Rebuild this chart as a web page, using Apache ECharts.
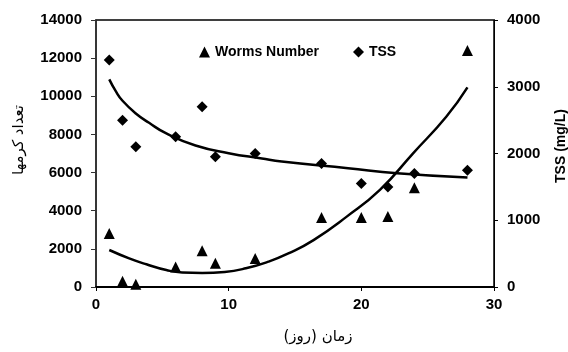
<!DOCTYPE html>
<html>
<head>
<meta charset="utf-8">
<script src="https://cdn.jsdelivr.net/npm/echarts@6/dist/echarts.min.js"></script>
<style>
  html, body { margin: 0; padding: 0; background: #fff; }
  #main { width: 568px; height: 352px; }
</style>
</head>
<body>
<div id="main"></div>
<script>
// روزها و مقادیر اندازه گیری شده
var days = [1, 2, 3, 6, 8, 9, 12, 17, 20, 22, 24, 28];
var worms = [2800, 300, 150, 1050, 1900, 1250, 1500, 3650, 3650, 3700, 5200, 12400];
var tss = [3400, 2500, 2100, 2250, 2700, 1950, 2000, 1850, 1550, 1500, 1700, 1750];

// خط روند (خوانده شده از تصویر)
var wormTrendX = [1, 2.5, 3.8, 5.3, 6.5, 8, 9.7, 11.3, 13, 14.5, 16.4, 18.9, 21.4, 23.9, 26.4, 28];
var wormTrendY = [1940, 1500, 1190, 890, 760, 740, 790, 980, 1330, 1760, 2460, 3690, 5090, 7010, 8930, 10470];
var tssTrendX = [1, 1.5, 2, 3, 4, 5.3, 7.5, 10, 12.5, 14, 19, 22.7, 28];
var tssTrendY = [3110, 2930, 2790, 2600, 2460, 2300, 2120, 2005, 1925, 1880, 1780, 1705, 1640];

var leftTicks = [0, 14000, 2000];
var rightTicks = [0, 4000, 1000];
var xTicks = [0, 30, 10];

function pairs(xs, ys) {
  return xs.map(function (x, i) { return [x, ys[i]]; });
}

var labelFont = {
  color: "#000", fontFamily: "Arial", fontWeight: "bold", fontSize: 15,
  formatter: function (v) { return String(v); }
};

var myChart = echarts.init(document.getElementById("main"));
myChart.setOption({
  animation: false,
  grid: {
    left: 96, top: 20, right: 74, bottom: 65,
    show: true, borderColor: "#000", borderWidth: 1.5, backgroundColor: "transparent"
  },
  legend: {
    left: 194, top: 40,
    itemWidth: 11, itemHeight: 11, itemGap: 34,
    textStyle: { color: "#000", fontFamily: "Arial", fontWeight: "bold", fontSize: 14 },
    data: ["Worms Number", "TSS"]
  },
  xAxis: {
    type: "value",
    min: xTicks[0], max: xTicks[1], interval: xTicks[2],
    axisLine: { lineStyle: { color: "#000", width: 2 } },
    axisTick: { length: 4, lineStyle: { color: "#000" } },
    axisLabel: Object.assign({ margin: 10 }, labelFont),
    splitLine: { show: false }
  },
  yAxis: [
    {
      type: "value",
      min: leftTicks[0], max: leftTicks[1], interval: leftTicks[2],
      axisLine: { show: true, lineStyle: { color: "#333", width: 1.5 } },
      axisTick: { show: true, length: 5, lineStyle: { color: "#333" } },
      axisLabel: Object.assign({ margin: 14 }, labelFont),
      splitLine: { show: false }
    },
    {
      type: "value",
      position: "right",
      min: rightTicks[0], max: rightTicks[1], interval: rightTicks[2],
      axisLine: { show: true, lineStyle: { color: "#000", width: 1 } },
      axisTick: { show: true, length: 4, lineStyle: { color: "#000" } },
      axisLabel: Object.assign({ margin: 13 }, labelFont),
      splitLine: { show: false }
    }
  ],
  series: [
    {
      name: "Worms Number",
      type: "scatter",
      yAxisIndex: 0,
      symbol: "triangle",
      symbolSize: 11,
      itemStyle: { color: "#000", opacity: 1 },
      data: pairs(days, worms),
      z: 3
    },
    {
      name: "TSS",
      type: "scatter",
      yAxisIndex: 1,
      symbol: "diamond",
      symbolSize: [11, 11],
      itemStyle: { color: "#000", opacity: 1 },
      data: pairs(days, tss),
      z: 3
    },
    {
      name: "wormTrend",
      type: "line",
      yAxisIndex: 0,
      smooth: 0.5,
      showSymbol: false,
      lineStyle: { color: "#000", width: 2.5 },
      data: pairs(wormTrendX, wormTrendY),
      z: 2
    },
    {
      name: "tssTrend",
      type: "line",
      yAxisIndex: 1,
      smooth: 0.5,
      showSymbol: false,
      lineStyle: { color: "#000", width: 2.5 },
      data: pairs(tssTrendX, tssTrendY),
      z: 2
    }
  ],
  graphic: [
    {
      type: "text", x: 318, y: 337,
      style: {
        text: "زمان (روز)", fill: "#000",
        font: "15px 'DejaVu Sans'", textAlign: "center", textVerticalAlign: "middle"
      }
    },
    {
      type: "text", x: 19, y: 140, rotation: Math.PI / 2,
      style: {
        text: "تعداد کرمها", fill: "#000",
        font: "15px 'DejaVu Sans'", textAlign: "center", textVerticalAlign: "middle"
      }
    },
    {
      type: "text", x: 561, y: 146, rotation: Math.PI / 2,
      style: {
        text: "TSS (mg/L)", fill: "#000",
        font: "bold 14px Arial", textAlign: "center", textVerticalAlign: "middle"
      }
    }
  ]
});
</script>
</body>
</html>
